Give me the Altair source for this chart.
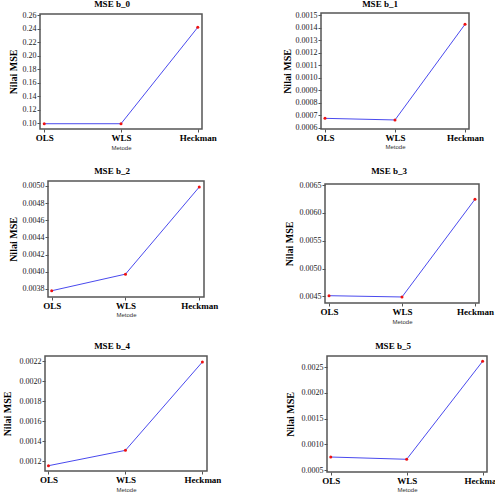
import json
import altair as alt
import pandas as pd

# ---------------- data ----------------
METODE = ["OLS", "WLS", "Heckman"]
TITLES = ["MSE b_0", "MSE b_1", "MSE b_2", "MSE b_3", "MSE b_4", "MSE b_5"]
Y_TITLE = "Nilai MSE"
X_TITLE = "Metode"

MSE_B0 = [0.0994, 0.0994, 0.2422]
MSE_B1 = [0.000675, 0.000662, 0.001428]
MSE_B2 = [0.003777, 0.003971, 0.004988]
MSE_B3 = [0.004513, 0.004490, 0.006244]
MSE_B4 = [0.001153, 0.001307, 0.002193]
MSE_B5 = [0.000757, 0.000713, 0.002610]

# axis tick values / limits
YTICKS_B0 = [0.10, 0.12, 0.14, 0.16, 0.18, 0.20, 0.22, 0.24, 0.26]
YTICKS_B1 = [0.0006, 0.0007, 0.0008, 0.0009, 0.0010, 0.0011, 0.0012, 0.0013, 0.0014, 0.0015]
YTICKS_B2 = [0.0038, 0.0040, 0.0042, 0.0044, 0.0046, 0.0048, 0.0050]
YTICKS_B3 = [0.0045, 0.0050, 0.0055, 0.0060, 0.0065]
YTICKS_B4 = [0.0012, 0.0014, 0.0016, 0.0018, 0.0020, 0.0022]
YTICKS_B5 = [0.0005, 0.0010, 0.0015, 0.0020, 0.0025]

YDOM_B0 = [0.0916, 0.2619]
YDOM_B1 = [0.0005896, 0.0015184]
YDOM_B2 = [0.003704, 0.005058]
YDOM_B3 = [0.004382, 0.006518]
YDOM_B4 = [0.0011, 0.002253]
YDOM_B5 = [0.000467, 0.002713]

XDOMS = [[-0.055, 2.055], [-0.057, 2.057], [-0.05, 2.064],
         [-0.055, 2.055], [-0.045, 2.06], [-0.049, 2.058]]

SERIES = [MSE_B0, MSE_B1, MSE_B2, MSE_B3, MSE_B4, MSE_B5]
YTICKS = [YTICKS_B0, YTICKS_B1, YTICKS_B2, YTICKS_B3, YTICKS_B4, YTICKS_B5]
YDOMS = [YDOM_B0, YDOM_B1, YDOM_B2, YDOM_B3, YDOM_B4, YDOM_B5]
FMTS = [".2f", ".4f", ".4f", ".4f", ".4f", ".4f"]

# ---------------- layout (pixels) ----------------
W, H = 495, 494
# plot box: left, right, top, bottom
BOX = [(40, 202, 14, 129), (321, 469, 13, 129),
       (48, 204, 181, 297), (325, 479, 184, 303),
       (45, 207, 356, 471), (327, 487, 356, 472)]
TITLE_POS = [(112, 7), (380, 7), (112, 174), (389, 174), (112, 349), (393, 349)]
YTITLE_CX = [13, 287, 13, 289, 7, 290]
XTITLE_BASE = [149, 148, 316, 323, 491, 491]

SERIF = "Liberation Serif"
SANS = "Liberation Sans"
FRAME = "#555555"
LINE = "#4a4aee"
POINT = "#ee1111"


def panel(k):
    x0, x1, y0, y1 = BOX[k]
    df = pd.DataFrame({"idx": list(range(len(METODE))), "metode": METODE, "mse": SERIES[k]})
    xs = alt.Scale(domain=XDOMS[k], range=[x0, x1], nice=False, zero=False)
    ys = alt.Scale(domain=YDOMS[k], range=[y1, y0], nice=False, zero=False)
    label_expr = json.dumps(METODE) + "[datum.value]"
    xaxis = alt.Axis(
        orient="bottom", offset=y1 - H, values=list(range(len(METODE))),
        labelExpr=label_expr, domain=False, grid=False,
        tickSize=3, tickColor="#555555", tickWidth=1,
        labelFont=SERIF, labelFontSize=9, labelFontWeight="bold", labelColor="black",
        labelPadding=1, labelOverlap=False, labelFlush=False,
        title=X_TITLE, titleFont=SANS, titleFontSize=6, titleFontWeight="normal",
        titleColor="#333333", titleX=(x0 + x1) / 2, titleY=XTITLE_BASE[k] - y1,
        titleBaseline="alphabetic", titleAlign="center",
    )
    yaxis = alt.Axis(
        orient="left", offset=-x0, values=YTICKS[k], format=FMTS[k],
        domain=False, grid=False,
        tickSize=3, tickColor="#555555", tickWidth=1,
        labelFont=SERIF, labelFontSize=8, labelColor="#222222",
        labelPadding=1, labelOverlap=False, labelFlush=False,
        title=Y_TITLE, titleFont=SERIF, titleFontSize=10, titleFontWeight="bold",
        titleColor="black", titleX=YTITLE_CX[k] - x0, titleY=(y0 + y1) / 2,
        titleBaseline="middle", titleAlign="center", titleAngle=270,
    )
    X = alt.X("idx:Q", scale=xs, axis=xaxis)
    Y = alt.Y("mse:Q", scale=ys, axis=yaxis)

    fdf = pd.DataFrame({"idx": [XDOMS[k][0]], "idx2": [XDOMS[k][1]],
                        "mse": [YDOMS[k][0]], "mse2": [YDOMS[k][1]]})
    frame = alt.Chart(fdf).mark_rect(fillOpacity=0, fill="white", stroke=FRAME, strokeWidth=1.5).encode(
        x=X, x2="idx2:Q", y=Y, y2="mse2:Q")
    line = alt.Chart(df).mark_line(color=LINE, strokeWidth=1).encode(x=X, y=Y)
    pts = alt.Chart(df).mark_circle(color=POINT, size=9, opacity=1).encode(x=X, y=Y)
    tx, ty = TITLE_POS[k]
    ttl = alt.Chart(pd.DataFrame({"t": [TITLES[k]]})).mark_text(
        font=SERIF, fontSize=9, fontWeight="bold", color="black",
        align="center", baseline="alphabetic").encode(
        text="t:N", x=alt.value(tx), y=alt.value(ty))
    return alt.layer(frame, line, pts, ttl)


chart = alt.layer(*[panel(k) for k in range(6)]).resolve_scale(
    x="independent", y="independent"
).properties(
    width=W, height=H, padding=0,
    autosize=alt.AutoSizeParams(type="none"),
    background="white",
).configure_view(stroke=None)

chart.save("out.html", embed_options={"renderer": "svg", "actions": False})
